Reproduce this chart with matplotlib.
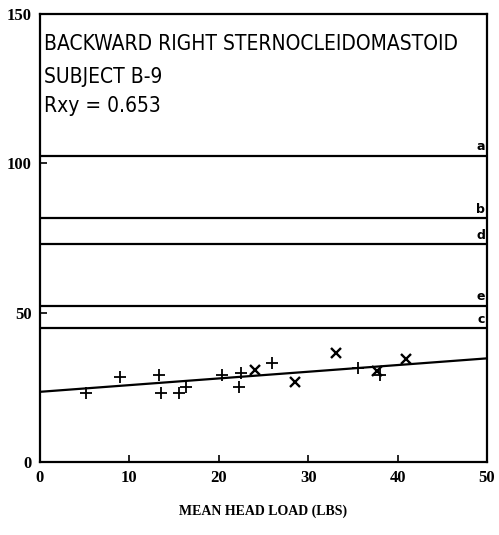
import matplotlib
matplotlib.use("Agg")
from matplotlib import pyplot as plt

################################################################################
# Data
################################################################################

plus_x = [5.2, 8.9, 13.3, 13.5, 15.6, 16.3, 20.4, 22.5, 22.3, 26.0, 35.6, 38.0]
plus_y = [23.2, 28.3, 29.1, 23.2, 23.1, 25.2, 29.1, 29.7, 25.2, 33.0, 31.4, 29.1]

cross_x = [24.0, 28.5, 33.1, 37.7, 40.9]
cross_y = [30.8, 26.9, 36.6, 30.6, 34.4]

trend_x = [0, 50]
trend_y = [23.5, 34.7]

level_names = ["a", "b", "d", "e", "c"]
level_values = [102.5, 81.6, 73.0, 52.3, 44.7]

title_lines = ["BACKWARD RIGHT STERNOCLEIDOMASTOID", "SUBJECT B-9", "Rxy = 0.653"]

################################################################################
# Figure
################################################################################

fig = plt.figure(figsize=(4.99, 5.35), dpi=100)
ax = fig.add_axes([0.080, 0.1364, 0.896, 0.8376])

for v in level_values:
    ax.axhline(v, color="black", linewidth=1.6)
for name, v in zip(level_names, level_values):
    ax.text(49.3, v + 0.8, name, ha="center", va="bottom", fontsize=9,
            fontweight="bold", family="DejaVu Sans")

ax.plot(trend_x, trend_y, color="black", linewidth=1.6)
ax.plot(plus_x, plus_y, "+", color="black", markersize=9, markeredgewidth=1.3)
ax.plot(cross_x, cross_y, "x", color="black", markersize=7, markeredgewidth=1.7)

ys = [137.9, 126.8, 117.1]
for t, y in zip(title_lines, ys):
    ax.text(0.45, y, t, ha="left", va="baseline", fontsize=15,
            family="DejaVu Sans", fontstretch="condensed")

ax.set_xlim(0, 50)
ax.set_ylim(0, 150)
ax.set_xticks(range(0, 51, 10))
ax.set_yticks([0, 50, 100, 150])
ax.tick_params(direction="in", length=5, width=1.2, pad=6)
for lab in ax.get_xticklabels() + ax.get_yticklabels():
    lab.set_family("Liberation Serif")
    lab.set_fontweight("bold")
    lab.set_fontsize(12)
for s in ax.spines.values():
    s.set_linewidth(1.6)

ax.set_xlabel("MEAN HEAD LOAD (LBS)", family="Liberation Serif",
              fontweight="bold", fontsize=10, labelpad=13)

fig.savefig("out.png", dpi=100)
